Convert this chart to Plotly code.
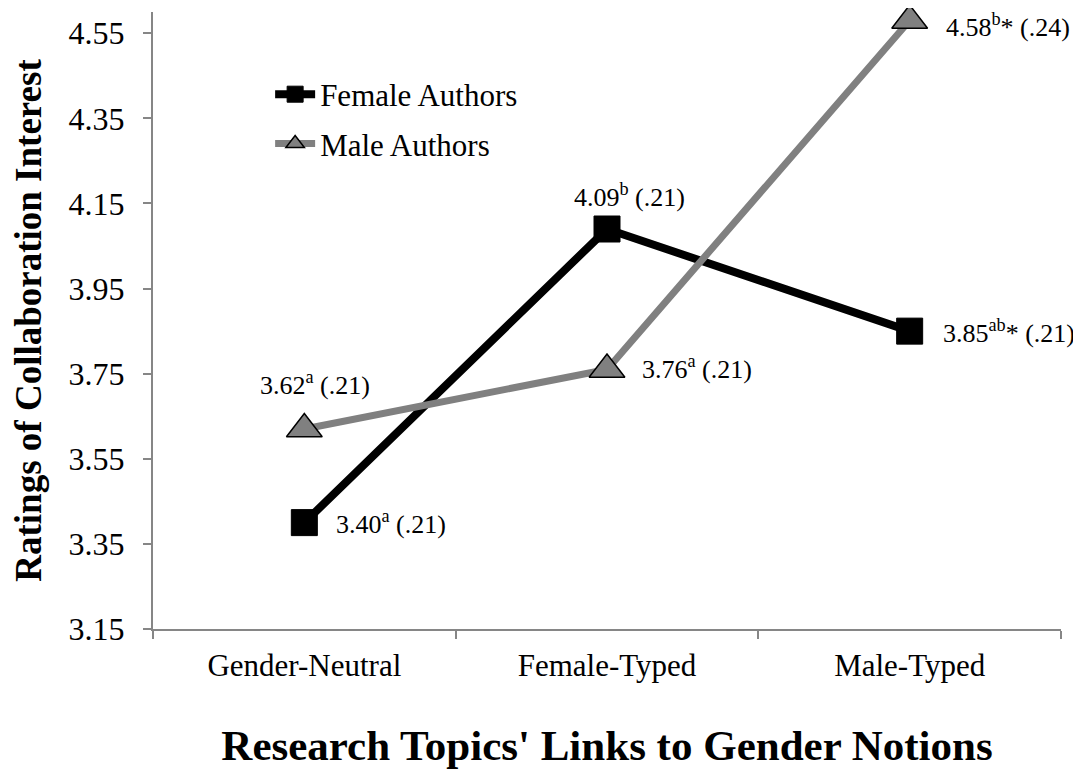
import plotly.graph_objects as go

categories = ["Gender-Neutral", "Female-Typed", "Male-Typed"]
female_means = [3.40, 4.09, 3.85]
male_means = [3.62, 3.76, 4.58]
female_labels = ["3.40<sup>a</sup> (.21)", "4.09<sup>b</sup> (.21)", "3.85<sup>ab</sup>* (.21)"]
male_labels = ["3.62<sup>a</sup> (.21)", "3.76<sup>a</sup> (.21)", "4.58<sup>b</sup>* (.24)"]
y_ticks = [3.15, 3.35, 3.55, 3.75, 3.95, 4.15, 4.35, 4.55]

FONT = "Liberation Serif, Times New Roman, serif"

fig = go.Figure()
fig.add_trace(go.Scatter(
    x=categories, y=female_means, mode="lines+markers", name="Female Authors",
    legendgroup="f", cliponaxis=False,
    line=dict(color="black", width=8),
    marker=dict(symbol="square", size=26, color="black", line=dict(color="black", width=1)),
))
fig.add_trace(go.Scatter(
    x=categories, y=male_means, mode="lines+markers", name="Male Authors",
    legendgroup="m", cliponaxis=False,
    line=dict(color="#808080", width=7),
    marker=dict(symbol="triangle-up", size=31, color="#808080", line=dict(color="black", width=1.5)),
))

# label placement: (xanchor, xshift, yshift)
female_pos = [("left", 30, 0), ("center", 22, 34), ("left", 31, 0)]
male_pos = [("center", 11, 46), ("left", 33, 2), ("left", 34, -5)]
for cat, val, txt, (xa, xs, ys) in zip(categories, female_means, female_labels, female_pos):
    fig.add_annotation(x=cat, y=val, text=txt, showarrow=False, xanchor=xa, yanchor="middle",
                       xshift=xs, yshift=ys, font=dict(family=FONT, size=26, color="black"))
for cat, val, txt, (xa, xs, ys) in zip(categories, male_means, male_labels, male_pos):
    fig.add_annotation(x=cat, y=val, text=txt, showarrow=False, xanchor=xa, yanchor="middle",
                       xshift=xs, yshift=ys, font=dict(family=FONT, size=26, color="black"))

fig.update_layout(
    width=1073, height=772,
    margin=dict(l=145, r=20, t=4, b=151),
    paper_bgcolor="white", plot_bgcolor="white",
    font=dict(family=FONT, size=32, color="black"),
    showlegend=True,
    legend=dict(x=0.129, y=0.91, xanchor="left", yanchor="top", bgcolor="rgba(0,0,0,0)",
                font=dict(family=FONT, size=31), itemwidth=40, tracegroupgap=6,
                traceorder="grouped"),
    xaxis=dict(
        type="category", range=[-0.5, 2.5], tickson="boundaries",
        showline=True, linecolor="#868686", linewidth=2,
        ticks="outside", ticklen=8, tickcolor="#868686", tickwidth=2,
        showgrid=False, zeroline=False,
        tickfont=dict(family=FONT, size=31),
        ticklabelstandoff=8,
        title=dict(text="<b>Research Topics' Links to Gender Notions</b>",
                   font=dict(family=FONT, size=43), standoff=48),
    ),
    yaxis=dict(
        range=[3.15, 4.6], tickvals=y_ticks, ticktext=[f"{v:.2f}" for v in y_ticks],
        showline=True, linecolor="#868686", linewidth=2,
        ticks="outside", ticklen=8, tickcolor="#868686", tickwidth=2,
        showgrid=False, zeroline=False,
        tickfont=dict(family=FONT, size=32),
        ticklabelstandoff=12,
        title=dict(text="<b>Ratings of Collaboration Interest</b>",
                   font=dict(family=FONT, size=37), standoff=22),
    ),
)

fig.write_html("out.html")
